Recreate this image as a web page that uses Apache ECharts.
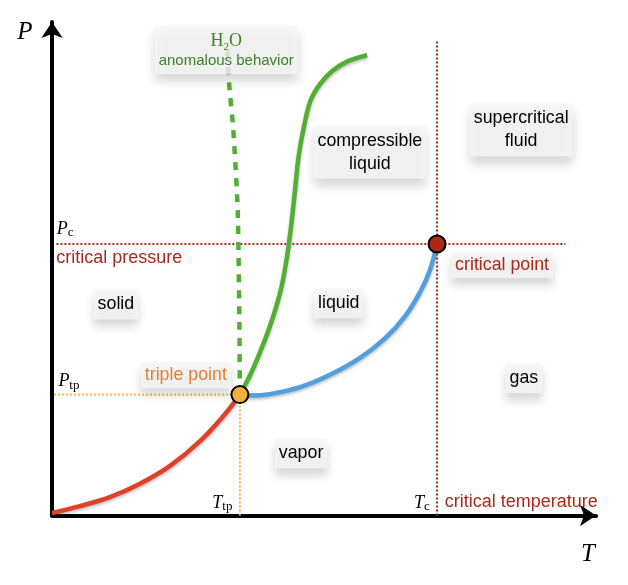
<!DOCTYPE html>
<html><head><meta charset="utf-8">
<style>html,body{margin:0;padding:0;background:#fff}#c{width:628px;height:585px}</style>
<script src="https://cdn.jsdelivr.net/npm/echarts@6/dist/echarts.min.js"></script>
</head><body><div id="c"></div>
<script>
// Values in axis units: T and P both run 0..99.6
const triplePoint = [34.4, 24.4];
const criticalPoint = [70.5, 54.8];
const sublimationCurve = [[0,0.5],[5.1,1.9],[10.6,3.7],[16.1,6.4],[21.6,10.0],[27.1,15.0],[31.7,20.5],[34.4,24.4]];
const vaporizationCurve = [[34.4,24.4],[36.3,24.2],[39.9,24.5],[45.4,25.9],[50.9,28.4],[56.4,31.8],[61.0,35.8],[64.7,40.3],[67.4,45.1],[69.2,49.5],[70.5,54.8]];
const meltingCurve = [[34.4,24.4],[36.3,28.4],[38.1,33.0],[39.9,38.2],[41.8,45.1],[43.0,52.0],[43.8,58.6],[44.5,65.7],[45.2,72.8],[46.2,78.8],[47.4,83.9],[49.1,87.1],[51.3,89.7],[54.2,91.7],[57.7,92.9]];
const waterMeltingCurve = [[34.4,24.5],[34.3,40.0],[34.0,61.7],[33.2,77.8],[32.4,87.5],[32.1,94.3]];
const criticalPressureLine = [[0.8,54.8],[94,54.8]];
const criticalTemperatureLine = [[70.5,0],[70.5,95.8]];
const triplePressureLine = [[0.4,24.4],[34.4,24.4]];
const tripleTemperatureLine = [[34.4,0],[34.4,24.4]];
const boxedBlack = [['solid',11.7,42.6],['liquid',52.5,42.8],['vapor',45.6,12.5],['gas',86.4,27.7],['compressible\nliquid',58.2,73.3],['supercritical\nfluid',85.9,77.8]];
const boxedColoured = [['triple point',24.5,28.3,'#e5802f'],['critical point',82.4,50.5,'#a92a1a']];
const plainLabels = [['critical pressure',12.3,51.9],['critical temperature',85.9,2.8]];
const mathLabels = [['P','c',2.4,57.8],['P','tp',3.1,27.0],['T','tp',31.2,2.5],['T','c',67.7,2.5]];
const waterLabel = [31.9,93.9];

const SANS = '"Liberation Sans",Arial,sans-serif', SERIF = '"Liberation Serif",serif';
const BOX = {backgroundColor:'rgba(245,245,245,0.82)',shadowColor:'rgba(0,0,0,0.2)',shadowBlur:10,shadowOffsetY:7};
const curve = (name,data,color,extra) => ({name,type:'line',data,smooth:0.4,symbol:'none',z:3,
  lineStyle:Object.assign({color,width:4.5,shadowColor:'rgba(0,0,0,0.25)',shadowBlur:3,shadowOffsetY:2},extra||{})});
const guide = (name,data,color) => ({name,type:'line',data,symbol:'none',z:2,silent:true,
  lineStyle:{color,width:2,type:[2,2]}});
const labels = (name,data,z) => ({name,type:'scatter',data,symbolSize:1,itemStyle:{color:'transparent',opacity:1},z:z||5,clip:false,silent:true});

const chart = echarts.init(document.getElementById('c'),null,{renderer:'canvas'});
chart.setOption({
  animation:false,backgroundColor:'#fff',
  grid:{left:52,top:22,width:544,height:493.5},
  xAxis:{type:'value',min:0,max:99.6,splitLine:{show:false},axisTick:{show:false},axisLabel:{show:false},
    name:'T',nameLocation:'end',nameGap:-15,nameMoveOverlap:false,
    nameTextStyle:{fontFamily:SERIF,fontStyle:'italic',fontSize:25,color:'#000',verticalAlign:'top',padding:[26,0,0,0]},
    axisLine:{onZero:false,symbol:['none','arrow'],symbolSize:[16,16],lineStyle:{color:'#000',width:4}}},
  yAxis:{type:'value',min:0,max:99.6,splitLine:{show:false},axisTick:{show:false},axisLabel:{show:false},
    name:'P',nameLocation:'end',nameGap:-23,nameMoveOverlap:false,
    nameTextStyle:{fontFamily:SERIF,fontStyle:'italic',fontSize:25,color:'#000',padding:[0,54,0,0]},
    axisLine:{onZero:false,symbol:['none','arrow'],symbolSize:[16,16],lineStyle:{color:'#000',width:4}}},
  series:[
    guide('critical pressure line',criticalPressureLine,'#9c2b1e'),
    guide('critical temperature line',criticalTemperatureLine,'#9c2b1e'),
    guide('triple pressure line',triplePressureLine,'#f6b547'),
    guide('triple temperature line',tripleTemperatureLine,'#f6b547'),
    curve('sublimation',sublimationCurve,'#e0402a'),
    curve('vaporization',vaporizationCurve,'#519fdc'),
    curve('melting',meltingCurve,'#53af33'),
    Object.assign(curve('water melting',waterMeltingCurve,'#53af33',{type:[8,8],shadowBlur:0,shadowOffsetY:0}),{smooth:0.2}),
    {name:'points',type:'scatter',z:6,symbolSize:17,data:[
      {value:triplePoint,itemStyle:{color:'#f4b03e',opacity:1,borderColor:'#000',borderWidth:2}},
      {value:criticalPoint,itemStyle:{color:'#a92a16',opacity:1,borderColor:'#000',borderWidth:2}}]},
    labels('boxed',boxedBlack.map(d=>({value:[d[1],d[2]],label:{show:true,opacity:1,position:'inside',
      formatter:d[0],fontFamily:SANS,fontSize:17.8,lineHeight:23,color:'#000',padding:[3,4,4,4],...BOX}}))),
    labels('boxed coloured',boxedColoured.map(d=>({value:[d[1],d[2]],label:{show:true,opacity:1,position:'inside',
      formatter:d[0],fontFamily:SANS,fontSize:17.8,color:d[3],padding:[4,4,4,4],...BOX}}))),
    labels('plain',plainLabels.map(d=>({value:[d[1],d[2]],label:{show:true,opacity:1,position:'inside',
      formatter:d[0],fontFamily:SANS,fontSize:18,color:'#a92a1a'}}))),
    labels('math',mathLabels.map(d=>({value:[d[2],d[3]],label:{show:true,opacity:1,position:'inside',
      formatter:'{m|'+d[0]+'}{s|'+d[1]+'}',
      rich:{m:{fontFamily:SERIF,fontStyle:'italic',fontSize:18,color:'#000',lineHeight:20},
            s:{fontFamily:SERIF,fontSize:13,color:'#000',lineHeight:14,verticalAlign:'bottom'}}}}))),
    labels('water',[{value:waterLabel,label:{show:true,opacity:1,position:'inside',
      formatter:'{h|H}{i|2}{h|O}\n{t|anomalous behavior}',padding:[4,4,4,4],...BOX,
      rich:{h:{fontFamily:SERIF,fontSize:18,color:'#3f7f2a',lineHeight:22,align:'center'},
            i:{fontFamily:SERIF,fontSize:11,color:'#3f7f2a',lineHeight:14,verticalAlign:'bottom'},
            t:{fontFamily:SANS,fontSize:15,color:'#3f7f2a',lineHeight:18,align:'center'}}}}])
  ]
});
</script></body></html>
